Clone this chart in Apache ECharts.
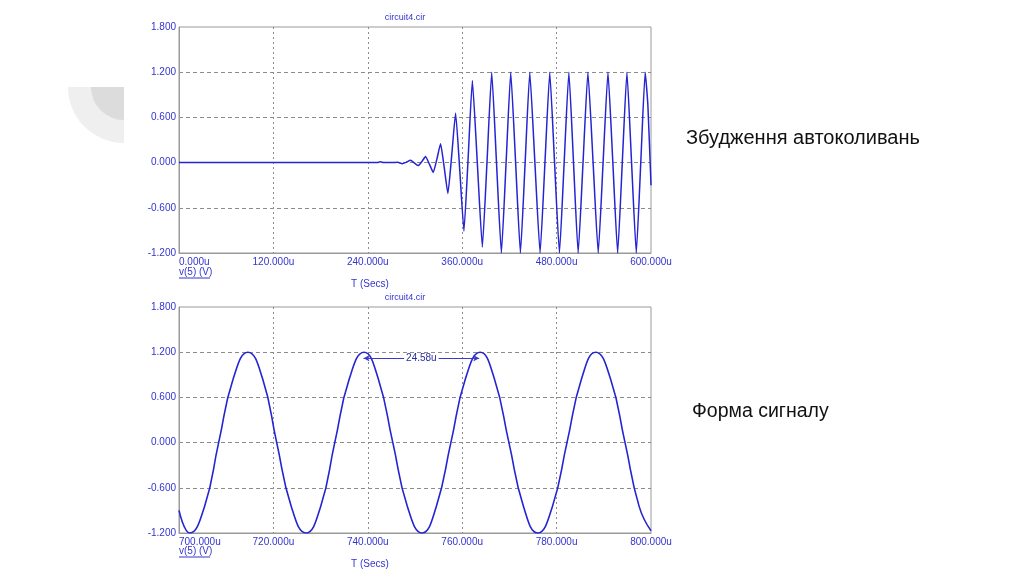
<!DOCTYPE html>
<html>
<head>
<meta charset="utf-8">
<script src="https://cdn.jsdelivr.net/npm/echarts@6/dist/echarts.min.js"></script>
<style>
html,body{margin:0;padding:0;background:#fff;}
#c{width:1024px;height:574px;}
</style>
</head>
<body>
<div id="c"></div>
<script>
// ---- data ----
const chartTitle = 'circuit4.cir';
const yLabel = 'v(5) (V)';
const xLabel = 'T (Secs)';
const noteTop = 'Збудження автоколивань';
const noteBottom = 'Форма сигналу';
const periodLabel = '24.58u';

// top chart: build-up of self-oscillation, 0..600 us
const topT = [0, 240, 252, 256, 260, 270, 278, 283.7, 289, 294.3,
  299.2, 304.1, 308.8, 313.4, 318.3, 323.2, 327.9, 332.5, 337.2, 341.8,
  346.7, 351.6, 356.9, 362.2, 367.5, 372.9, 379.2, 385.6, 391.5, 397.5,
  403.6, 409.8, 415.8, 421.7, 427.9, 434.0, 440.0, 445.9, 452.4, 459.0,
  465.2, 471.3, 477.4, 483.6, 489.6, 495.6, 501.5, 507.4, 513.6, 519.8,
  526.4, 532.9, 539.1, 545.3, 551.5, 557.6, 563.5, 569.4, 575.3, 581.3,
  587.0, 592.6, 596, 600];
const topV = [0, 0, 0.002, 0.01, 0.001, 0, 0.004, -0.015, 0.005, 0.03,
  -0.005, -0.04, 0.015, 0.08, -0.02, -0.13, 0.05, 0.25, -0.07, -0.41,
  0.1, 0.66, -0.1, -0.91, 0.05, 1.09, 0, -1.12, 0, 1.2,
  0, -1.2, 0, 1.2, 0, -1.2, 0, 1.2, 0, -1.2,
  0, 1.2, 0, -1.2, 0, 1.2, 0, -1.2, 0, 1.2,
  0, -1.2, 0, 1.2, 0, -1.2, 0, 1.2, 0, -1.2,
  0, 1.2, 0.77, -0.3];

// bottom chart: steady signal, 700..800 us
const botT = [700, 702.3, 705.4, 708.4, 711.5, 714.6, 717.7, 720.7, 723.8, 726.9,
  730.0, 733.0, 736.1, 739.2, 742.2, 745.3, 748.4, 751.5, 754.5, 757.6,
  760.7, 763.8, 766.8, 769.9, 773.0, 776.0, 779.1, 782.2, 785.3, 788.3,
  791.4, 794.5, 797.5, 800];
const botV = [-0.9, -1.2, -0.85, 0, 0.85, 1.2, 0.85, 0, -0.85, -1.2,
  -0.85, 0, 0.85, 1.2, 0.85, 0, -0.85, -1.2, -0.85, 0,
  0.85, 1.2, 0.85, 0, -0.85, -1.2, -0.85, 0, 0.85, 1.2,
  0.85, 0, -0.85, -1.17];

// period marker (start time, end time, level)
const markStart = 739.1, markEnd = 763.6, markLevel = 1.12;

const yMin = -1.2, yMax = 1.8, yStep = 0.6;
const topXMin = 0, topXMax = 600, topXStep = 120;
const botXMin = 700, botXMax = 800, botXStep = 20;

// ---- chart ----
const blue = '#2424d2';
const labelBlue = '#3434d0';
const font = '"Liberation Sans", Arial, sans-serif';
const zip = (a, b) => a.map((x, i) => [x, b[i]]);

function xAxis(gi, min, max, step) {
  return {
    type: 'value', gridIndex: gi, min: min, max: max, interval: step,
    axisLine: {show: true, onZero: false, lineStyle: {color: '#9a9a9a', width: 1}},
    axisTick: {show: false},
    axisLabel: {color: labelBlue, fontFamily: font, fontSize: 10, margin: 4,
      formatter: v => v.toFixed(3) + 'u', alignMinLabel: 'left', alignMaxLabel: 'center'},
    splitLine: {show: true, showMinLine: false, showMaxLine: false,
      lineStyle: {color: '#8c8c8c', type: [2, 3], width: 1}}
  };
}
function yAxis(gi) {
  return {
    type: 'value', gridIndex: gi, min: yMin, max: yMax, interval: yStep,
    axisLine: {show: true, onZero: false, lineStyle: {color: '#9a9a9a', width: 1}},
    axisTick: {show: false},
    axisLabel: {color: labelBlue, fontFamily: font, fontSize: 10, margin: 3,
      formatter: v => v.toFixed(3)},
    splitLine: {show: true, showMinLine: false, showMaxLine: false,
      lineStyle: {color: '#8c8c8c', type: [4, 3], width: 1}}
  };
}

function txt(x, y, s, opt) {
  return Object.assign({type: 'text', x: x, y: y, silent: true,
    style: Object.assign({text: s, fill: labelBlue, font: '10px ' + font,
      textAlign: 'left', textVerticalAlign: 'middle'}, opt || {})});
}

const chart = echarts.init(document.getElementById('c'), null, {renderer: 'canvas'});
chart.setOption({
  animation: false,
  backgroundColor: '#ffffff',
  grid: [
    {left: 179, top: 27, width: 472, height: 226, show: true, borderColor: '#9a9a9a', borderWidth: 1},
    {left: 179, top: 307, width: 472, height: 226, show: true, borderColor: '#9a9a9a', borderWidth: 1}
  ],
  xAxis: [xAxis(0, topXMin, topXMax, topXStep), xAxis(1, botXMin, botXMax, botXStep)],
  yAxis: [yAxis(0), yAxis(1)],
  series: [
    {type: 'line', xAxisIndex: 0, yAxisIndex: 0, data: zip(topT, topV),
      smooth: 0.15, showSymbol: false, lineStyle: {color: blue, width: 1.5}},
    {type: 'line', xAxisIndex: 1, yAxisIndex: 1, data: zip(botT, botV),
      smooth: 0.5, showSymbol: false, lineStyle: {color: blue, width: 1.6},
      markLine: {
        silent: true, symbol: ['arrow', 'arrow'], symbolSize: [5, 6],
        lineStyle: {color: '#3a3ad0', width: 1, type: 'solid'},
        label: {show: true, position: 'insideMiddle', formatter: periodLabel,
          color: '#2c2c9c', fontFamily: font, fontSize: 10,
          backgroundColor: '#ffffff', padding: [0, 2]},
        data: [[{coord: [markStart, markLevel]}, {coord: [markEnd, markLevel]}]]
      }}
  ],
  graphic: [
    {type: 'sector', silent: true, shape: {cx: 124, cy: 87, r: 56, r0: 0, startAngle: Math.PI / 2, endAngle: Math.PI, clockwise: true},
      style: {fill: '#efefef'}},
    {type: 'sector', silent: true, shape: {cx: 124, cy: 87, r: 33, r0: 0, startAngle: Math.PI / 2, endAngle: Math.PI, clockwise: true},
      style: {fill: '#dcdcdc'}},
    txt(405, 18, chartTitle, {textAlign: 'center', font: '9px ' + font}),
    txt(179, 272, yLabel),
    {type: 'line', silent: true, shape: {x1: 179, y1: 278, x2: 210, y2: 278}, style: {stroke: labelBlue, lineWidth: 1}},
    txt(370, 284, xLabel, {textAlign: 'center'}),
    txt(405, 298, chartTitle, {textAlign: 'center', font: '9px ' + font}),
    txt(179, 551, yLabel),
    {type: 'line', silent: true, shape: {x1: 179, y1: 557, x2: 210, y2: 557}, style: {stroke: labelBlue, lineWidth: 1}},
    txt(370, 564, xLabel, {textAlign: 'center'}),
    txt(686, 138, noteTop, {fill: '#111111', font: '20px ' + font}),
    txt(692, 412, noteBottom, {fill: '#111111', font: '19.5px ' + font})
  ]
});
</script>
</body>
</html>
